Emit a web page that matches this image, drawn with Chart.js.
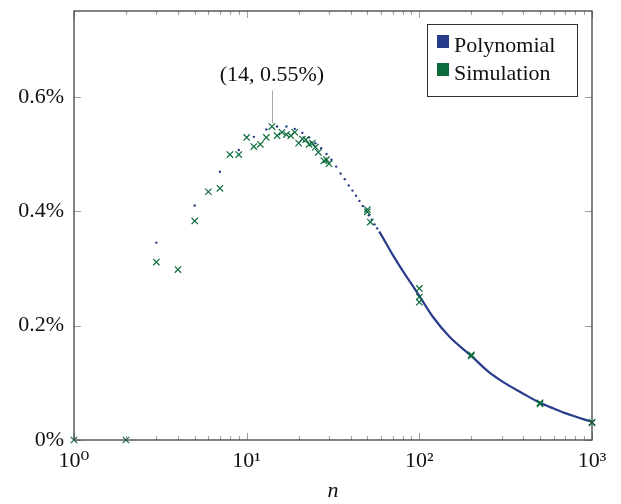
<!DOCTYPE html>
<html>
<head>
<meta charset="utf-8">
<script src="https://cdn.jsdelivr.net/npm/chart.js@4/dist/chart.umd.min.js"></script>
<style>
  html, body { margin: 0; padding: 0; background: #fff; }
  #wrap { width: 621px; height: 504px; }
</style>
</head>
<body>
<div id="wrap"><canvas id="chart" width="621" height="504"></canvas></div>
<script>
// polynomial fit (percent)
var polyN = [3, 5, 7, 9, 11, 13, 15, 17, 19, 21, 23, 25, 27, 29, 31, 33, 35, 37, 39, 41,
             43, 45, 47, 49, 51, 53, 55, 57, 59,
             70, 80, 90, 100, 120, 150, 200, 250, 300, 400, 500, 600, 700, 800, 900, 1000];
var polyVal = [0.345, 0.410, 0.469, 0.507, 0.530, 0.543, 0.548, 0.548, 0.544, 0.537, 0.529, 0.519, 0.510, 0.500, 0.490, 0.478, 0.466, 0.456, 0.445, 0.436,
               0.427, 0.418, 0.409, 0.401, 0.393, 0.385, 0.377, 0.370, 0.363,
               0.324, 0.296, 0.273, 0.252, 0.215, 0.180, 0.147, 0.120, 0.103, 0.081, 0.065, 0.055, 0.047, 0.041, 0.036, 0.032];

// simulation results (percent)
var simN = [1, 2, 3, 4, 5, 6, 7, 8, 9, 10, 11, 12, 13, 14, 15, 16, 17, 18, 19, 20,
            21, 22, 23, 24, 25, 26, 28, 29, 30, 50, 50, 52, 100, 100, 100, 200, 200, 500, 500, 1000, 1000];
var simVal = [0, 0, 0.311, 0.298, 0.383, 0.434, 0.440, 0.499, 0.499, 0.529, 0.513, 0.517, 0.529, 0.548, 0.532, 0.538, 0.534, 0.532, 0.538, 0.519,
              0.526, 0.525, 0.517, 0.519, 0.512, 0.503, 0.488, 0.490, 0.483, 0.403, 0.399, 0.381, 0.265, 0.250, 0.241, 0.149, 0.147, 0.065, 0.063, 0.031, 0.030];

var yTicks = [0, 0.2, 0.4, 0.6];
var xMajor = [1, 10, 100, 1000];
var xLabels = ['10\u2070', '10\u00b9', '10\u00b2', '10\u00b3'];

var blue = '#283c8c';
var green = '#0b6b3a';
var serif = "'Liberation Serif', 'DejaVu Serif', serif";

function toPoints(xs, ys) {
    var out = [];
    for (var i = 0; i < xs.length; i++) out.push({x: xs[i], y: ys[i]});
    return out;
}

// frame, inward ticks, legend box and the annotation
var decorations = {
    id: 'decorations',
    afterDraw: function(chart) {
        var ctx = chart.ctx, a = chart.chartArea;
        var xs = chart.scales.x, ys = chart.scales.y;
        ctx.save();
        ctx.strokeStyle = '#a0a0a0';
        ctx.lineWidth = 1;
        ctx.beginPath();
        for (var d = 0; d < 3; d++) {
            for (var k = 2; k < 10; k++) {
                var px = Math.round(xs.getPixelForValue(k * Math.pow(10, d))) + 0.5;
                ctx.moveTo(px, a.bottom); ctx.lineTo(px, a.bottom - 4);
                ctx.moveTo(px, a.top); ctx.lineTo(px, a.top + 4);
            }
        }
        xMajor.forEach(function(v) {
            var px = Math.round(xs.getPixelForValue(v)) + 0.5;
            ctx.moveTo(px, a.bottom); ctx.lineTo(px, a.bottom - 7);
            ctx.moveTo(px, a.top); ctx.lineTo(px, a.top + 7);
        });
        yTicks.forEach(function(v) {
            var py = Math.round(ys.getPixelForValue(v)) + 0.5;
            ctx.moveTo(a.left, py); ctx.lineTo(a.left + 7, py);
            ctx.moveTo(a.right, py); ctx.lineTo(a.right - 7, py);
        });
        ctx.stroke();

        ctx.strokeStyle = '#404040';
        ctx.lineWidth = 1.3;
        ctx.strokeRect(a.left, a.top, a.right - a.left, a.bottom - a.top);

        // legend, top right inside the plot
        var lx = a.right - 165, ly = a.top + 13;
        ctx.fillStyle = '#fff';
        ctx.fillRect(lx, ly, 150, 72);
        ctx.strokeStyle = '#303030';
        ctx.lineWidth = 1;
        ctx.strokeRect(lx + 0.5, ly + 0.5, 150, 72);
        ctx.font = '22px ' + serif;
        ctx.textAlign = 'left';
        ctx.textBaseline = 'alphabetic';
        chart.data.datasets.forEach(function(ds, i) {
            var rowY = ly + 11 + i * 28;
            ctx.fillStyle = ds.borderColor;
            ctx.fillRect(lx + 10, rowY, 12, 13);
            ctx.fillStyle = '#111';
            ctx.fillText(ds.label, lx + 27, rowY + 17);
        });

        // annotation pin
        var ax = xs.getPixelForValue(14), ay = ys.getPixelForValue(0.55);
        ctx.strokeStyle = '#a8a8a8';
        ctx.beginPath();
        ctx.moveTo(Math.round(ax) + 0.5, ay - 2);
        ctx.lineTo(Math.round(ax) + 0.5, ay - 35);
        ctx.stroke();
        ctx.fillStyle = '#111';
        ctx.font = '22px ' + serif;
        ctx.textAlign = 'center';
        ctx.fillText('(14, 0.55%)', ax, ay - 44);
        ctx.restore();
    }
};

new Chart(document.getElementById('chart'), {
    type: 'scatter',
    data: {
        datasets: [
            {
                label: 'Polynomial',
                data: toPoints(polyN, polyVal),
                showLine: true,
                borderColor: blue,
                backgroundColor: blue,
                borderWidth: 2.2,
                cubicInterpolationMode: 'monotone',
                pointStyle: 'circle',
                pointRadius: function(c) { return c.raw && c.raw.x < 60 ? 1.2 : 0; },
                pointBorderWidth: 0,
                segment: {
                    borderColor: function(c) { return c.p0.parsed.x >= 59 ? blue : 'rgba(0,0,0,0)'; }
                },
                order: 2
            },
            {
                label: 'Simulation',
                data: toPoints(simN, simVal),
                showLine: false,
                clip: 8,
                borderColor: green,
                backgroundColor: green,
                pointStyle: 'crossRot',
                pointRadius: 4.5,
                borderWidth: 1.2,
                order: 1
            }
        ]
    },
    options: {
        responsive: false,
        animation: false,
        layout: { padding: { top: 11, right: 29, left: 0, bottom: 0 } },
        scales: {
            x: {
                type: 'logarithmic',
                min: 1,
                max: 1000,
                grid: { display: false },
                border: { display: false },
                afterFit: function(s) { s.height = 64; s.paddingLeft = 0; s.paddingRight = 0; },
                afterBuildTicks: function(s) { s.ticks = xMajor.map(function(v) { return {value: v}; }); },
                ticks: {
                    autoSkip: false,
                    maxRotation: 0,
                    padding: 0,
                    color: '#111',
                    font: { family: serif, size: 22 },
                    callback: function(v) { var i = xMajor.indexOf(v); return i >= 0 ? xLabels[i] : ''; }
                },
                title: {
                    display: true,
                    text: 'n',
                    color: '#111',
                    font: { family: serif, size: 22, style: 'italic' },
                    padding: { top: 2, bottom: 0 }
                }
            },
            y: {
                min: 0,
                max: 0.75,
                grid: { display: false },
                border: { display: false },
                afterFit: function(s) { s.width = 74; s.paddingTop = 0; s.paddingBottom = 0; },
                afterBuildTicks: function(s) { s.ticks = yTicks.map(function(v) { return {value: v}; }); },
                ticks: {
                    padding: 2,
                    color: '#111',
                    font: { family: serif, size: 22 },
                    callback: function(v) { return v + '%'; }
                }
            }
        },
        plugins: {
            tooltip: { enabled: false },
            legend: { display: false }
        }
    },
    plugins: [decorations]
});
</script>
</body>
</html>
